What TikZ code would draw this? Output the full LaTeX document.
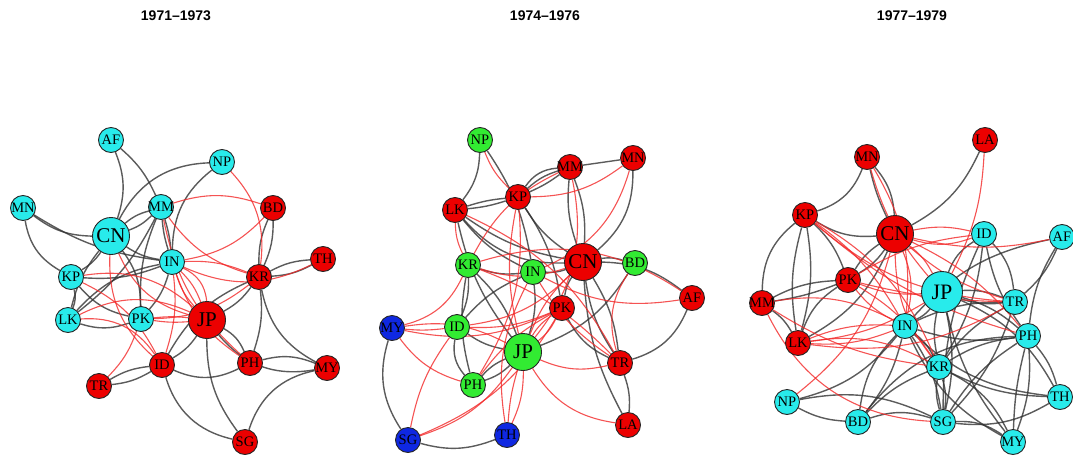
\documentclass[tikz,border=0pt]{standalone}
\usepackage{fontspec}
\setmainfont{Liberation Serif}
\newfontfamily\titlefont{Liberation Sans}
\usetikzlibrary{backgrounds}
\definecolor{ncyan}{RGB}{40,235,235}
\definecolor{nred}{RGB}{236,0,0}
\definecolor{ngreen}{RGB}{50,235,50}
\definecolor{nblue}{RGB}{15,40,225}
\definecolor{egray}{RGB}{50,50,50}
\definecolor{ered}{RGB}{242,40,40}
\tikzset{
  vtx/.style={circle, draw=black!85, line width=0.9pt, inner sep=0pt,
    minimum size=25pt, font=\fontsize{14.5}{14.5}\selectfont},
  big/.style={minimum size=37pt, font=\fontsize{21}{21}\selectfont},
  huge/.style={minimum size=41pt, font=\fontsize{22}{22}\selectfont},
  cy/.style={vtx, fill=ncyan},
  rd/.style={vtx, fill=nred},
  gr/.style={vtx, fill=ngreen},
  bl/.style={vtx, fill=nblue},
  tie/.style={draw=egray, draw opacity=0.8, line width=1.4pt},
  cross/.style={draw=ered, draw opacity=0.8, line width=1.1pt},
  ttl/.style={font=\titlefont\bfseries\fontsize{14}{14}\selectfont}
}
% edge lists: prefix, then node/node/bend entries
\newcommand\tiesof[2]{\foreach \u/\v/\b in {#2} {\draw[tie] (#1\u) to[bend left=\b] (#1\v);}}
\newcommand\crossof[2]{\foreach \u/\v/\b in {#2} {\draw[cross] (#1\u) to[bend left=\b] (#1\v);}}
\newcommand\lbl[1]{\makebox[0pt]{#1}}
\begin{document}
\begin{tikzpicture}[x=1pt, y=-1pt]
\useasboundingbox (0,0) rectangle (1073,458);
\clip (0,0) rectangle (1073,458);

% titles
\node[ttl] (t1) at (176,16) {1971\textendash1973};
\node[ttl] (t2) at (545,16) {1974\textendash1976};
\node[ttl] (t3) at (912,16) {1977\textendash1979};

% ---------- 1971-1973 ----------
\node[cy] (aAF) at (111,140) {\lbl{AF}};
\node[cy] (aNP) at (222,162) {\lbl{NP}};
\node[cy] (aMN) at (23,208) {\lbl{MN}};
\node[cy] (aMM) at (161,207) {\lbl{MM}};
\node[rd] (aBD) at (273,208) {\lbl{BD}};
\node[cy,big] (aCN) at (111,236) {\lbl{CN}};
\node[cy] (aIN) at (172,262) {\lbl{IN}};
\node[rd] (aTH) at (323,259) {\lbl{TH}};
\node[rd] (aKR) at (259,277) {\lbl{KR}};
\node[cy] (aKP) at (71,277) {\lbl{KP}};
\node[cy] (aLK) at (68,320) {\lbl{LK}};
\node[cy] (aPK) at (141,319) {\lbl{PK}};
\node[rd,big] (aJP) at (207,320) {\lbl{JP}};
\node[rd] (aID) at (162,365) {\lbl{ID}};
\node[rd] (aPH) at (250,363) {\lbl{PH}};
\node[rd] (aMY) at (327,368) {\lbl{MY}};
\node[rd] (aTR) at (99,386) {\lbl{TR}};
\node[rd] (aSG) at (245,442) {\lbl{SG}};

% ---------- 1974-1976 ----------
\node[gr] (bNP) at (480,140) {\lbl{NP}};
\node[rd] (bMN) at (633,158) {\lbl{MN}};
\node[rd] (bMM) at (570,167) {\lbl{MM}};
\node[rd] (bKP) at (518,197) {\lbl{KP}};
\node[rd] (bLK) at (455,210) {\lbl{LK}};
\node[rd,big] (bCN) at (583,262) {\lbl{CN}};
\node[gr] (bBD) at (635,263) {\lbl{BD}};
\node[gr] (bKR) at (468,265) {\lbl{KR}};
\node[gr] (bIN) at (533,272) {\lbl{IN}};
\node[rd] (bAF) at (692,298) {\lbl{AF}};
\node[rd] (bPK) at (562,308) {\lbl{PK}};
\node[bl] (bMY) at (392,328) {\lbl{MY}};
\node[gr] (bID) at (457,327) {\lbl{ID}};
\node[gr,big] (bJP) at (523,352) {\lbl{JP}};
\node[rd] (bTR) at (620,363) {\lbl{TR}};
\node[gr] (bPH) at (473,385) {\lbl{PH}};
\node[rd] (bLA) at (628,425) {\lbl{LA}};
\node[bl] (bSG) at (408,440) {\lbl{SG}};
\node[bl] (bTH) at (507,435) {\lbl{TH}};

% ---------- 1977-1979 ----------
\node[rd] (cLA) at (985,140) {\lbl{LA}};
\node[rd] (cMN) at (867,157) {\lbl{MN}};
\node[rd] (cKP) at (805,215) {\lbl{KP}};
\node[rd,big] (cCN) at (895,234) {\lbl{CN}};
\node[cy] (cID) at (984,234) {\lbl{ID}};
\node[cy] (cAF) at (1062,237) {\lbl{AF}};
\node[rd] (cPK) at (848,280) {\lbl{PK}};
\node[cy,huge] (cJP) at (942,292) {\lbl{JP}};
\node[rd] (cMM) at (762,303) {\lbl{MM}};
\node[cy] (cTR) at (1015,302) {\lbl{TR}};
\node[cy] (cIN) at (905,326) {\lbl{IN}};
\node[cy] (cPH) at (1028,336) {\lbl{PH}};
\node[rd] (cLK) at (798,343) {\lbl{LK}};
\node[cy] (cKR) at (939,367) {\lbl{KR}};
\node[cy] (cNP) at (787,402) {\lbl{NP}};
\node[cy] (cTH) at (1060,397) {\lbl{TH}};
\node[cy] (cBD) at (858,422) {\lbl{BD}};
\node[cy] (cSG) at (943,422) {\lbl{SG}};
\node[cy] (cMY) at (1013,442) {\lbl{MY}};

\begin{pgfonlayer}{background}
% ties within a bloc
\tiesof{a}{AF/CN/20, AF/MM/12, NP/CN/-30, NP/IN/-25, MN/CN/-18, MN/IN/-12,
  MN/KP/-25, MM/CN/12, MM/CN/-12, MM/IN/6, MM/IN/-6, MM/LK/12, MM/PK/-12,
  CN/IN/-12, CN/KP/12, CN/LK/-12, CN/PK/18, IN/KP/12, IN/LK/-18, IN/PK/12,
  KP/LK/18, KP/PK/-18, LK/PK/-18, BD/KR/12, BD/KR/-12, TH/KR/12, TH/KR/-12,
  KR/JP/12, KR/ID/-18, KR/PH/12, KR/MY/-25, JP/ID/12, JP/PH/18, JP/MY/-30,
  JP/SG/-18, ID/TR/12, ID/TR/-12, ID/PH/-25, ID/SG/-30, PH/MY/18, MY/SG/-30}
\crossof{a}{NP/KR/25, MM/BD/18, MM/KR/-18, MM/PH/-18, IN/BD/-18, IN/TH/-25,
  IN/KR/12, IN/JP/12, IN/JP/-12, IN/JP/30, IN/ID/12, IN/PH/-18, CN/ID/-25,
  CN/JP/-25, KP/JP/25, KP/ID/18, LK/JP/25, PK/JP/6, PK/JP/-6, PK/TR/12,
  PK/KR/-18, LK/ID/30}

\tiesof{b}{NP/LK/18, NP/IN/12, LK/KP/6, LK/KP/-6, LK/CN/-12, LK/CN/-25,
  LK/IN/-12, LK/JP/-12, KP/MM/12, KP/MM/-6, KP/MM/25, KP/CN/-12, KP/PK/12,
  MM/MN/0, MM/CN/12, MM/CN/-12, MN/CN/25, CN/BD/12, CN/IN/12, CN/PK/-12,
  CN/TR/-12, CN/TR/12, CN/LA/-12, CN/AF/18, BD/JP/18, KR/IN/-12, KR/ID/12,
  KR/PH/-12, KR/JP/12, IN/JP/12, IN/ID/-12, ID/PH/-25, ID/JP/-12, PH/JP/12,
  PH/JP/-12, PK/TR/-18, TR/AF/-25, TR/LA/12, MY/SG/-25, SG/TH/-18}
\crossof{b}{NP/KP/-12, MN/KP/18, MN/IN/25, MM/JP/25, MM/KR/-18, KP/JP/-12,
  KP/PH/18, LK/KR/-12, LK/TR/18, MY/KR/-25, MY/ID/-6, MY/JP/18, MY/PH/-18,
  MY/PK/-18, SG/JP/-18, SG/ID/12, SG/PK/-18, TH/JP/6, TH/JP/-12, TH/IN/18,
  JP/LA/-25, JP/TR/-18, JP/PK/12, JP/PK/-12, JP/CN/12, KR/AF/25, IN/TR/-12,
  IN/AF/-18, BD/TR/-25, ID/PK/-12, ID/CN/-18, PH/PK/12, KR/TR/12, CN/KR/18}

\tiesof{c}{MN/KP/25, MN/CN/18, MN/CN/-6, LA/CN/18, KP/CN/-18, KP/PK/12,
  KP/LK/12, KP/LK/-12, KP/MM/-25, MM/PK/12, MM/PK/-6, MM/LK/12, PK/CN/12,
  PK/CN/-12, PK/LK/-18, LK/CN/-18, ID/JP/-18, ID/TR/18, ID/PH/-12, ID/KR/12,
  ID/SG/-12, AF/TR/12, AF/PH/-12, AF/IN/-18, JP/IN/12, JP/TR/12, JP/TR/-12,
  JP/PH/12, JP/KR/-12, JP/SG/12, JP/MY/-12, JP/TH/18, IN/TR/12, IN/PH/-12,
  IN/KR/12, IN/BD/-18, IN/BD/12, IN/NP/18, IN/SG/12, IN/MY/-18, IN/TH/-18,
  KR/TR/12, KR/PH/12, KR/SG/12, KR/SG/-12, KR/BD/-12, KR/TH/-12, KR/MY/18,
  TR/SG/12, PH/SG/-12, PH/MY/12, PH/MY/-6, PH/BD/-25, SG/TH/-18, SG/MY/18,
  SG/BD/-18, NP/SG/18, NP/BD/-12, TH/PH/-12}
\crossof{c}{MN/IN/18, MN/JP/-12, LA/JP/12, KP/TR/-18, KP/PH/-12, KP/IN/12,
  KP/KR/18, CN/ID/-18, CN/ID/12, CN/TR/-12, CN/PH/12, CN/IN/18, CN/KR/-18,
  CN/NP/18, CN/JP/12, PK/JP/-12, PK/ID/12, PK/TR/-6, PK/KR/12, PK/IN/-12,
  MM/IN/18, MM/KR/-12, MM/SG/-30, LK/IN/12, LK/IN/-12, LK/JP/-12, LK/KR/18,
  LK/TR/-18, AF/CN/12}
\end{pgfonlayer}
\end{tikzpicture}
\end{document}
